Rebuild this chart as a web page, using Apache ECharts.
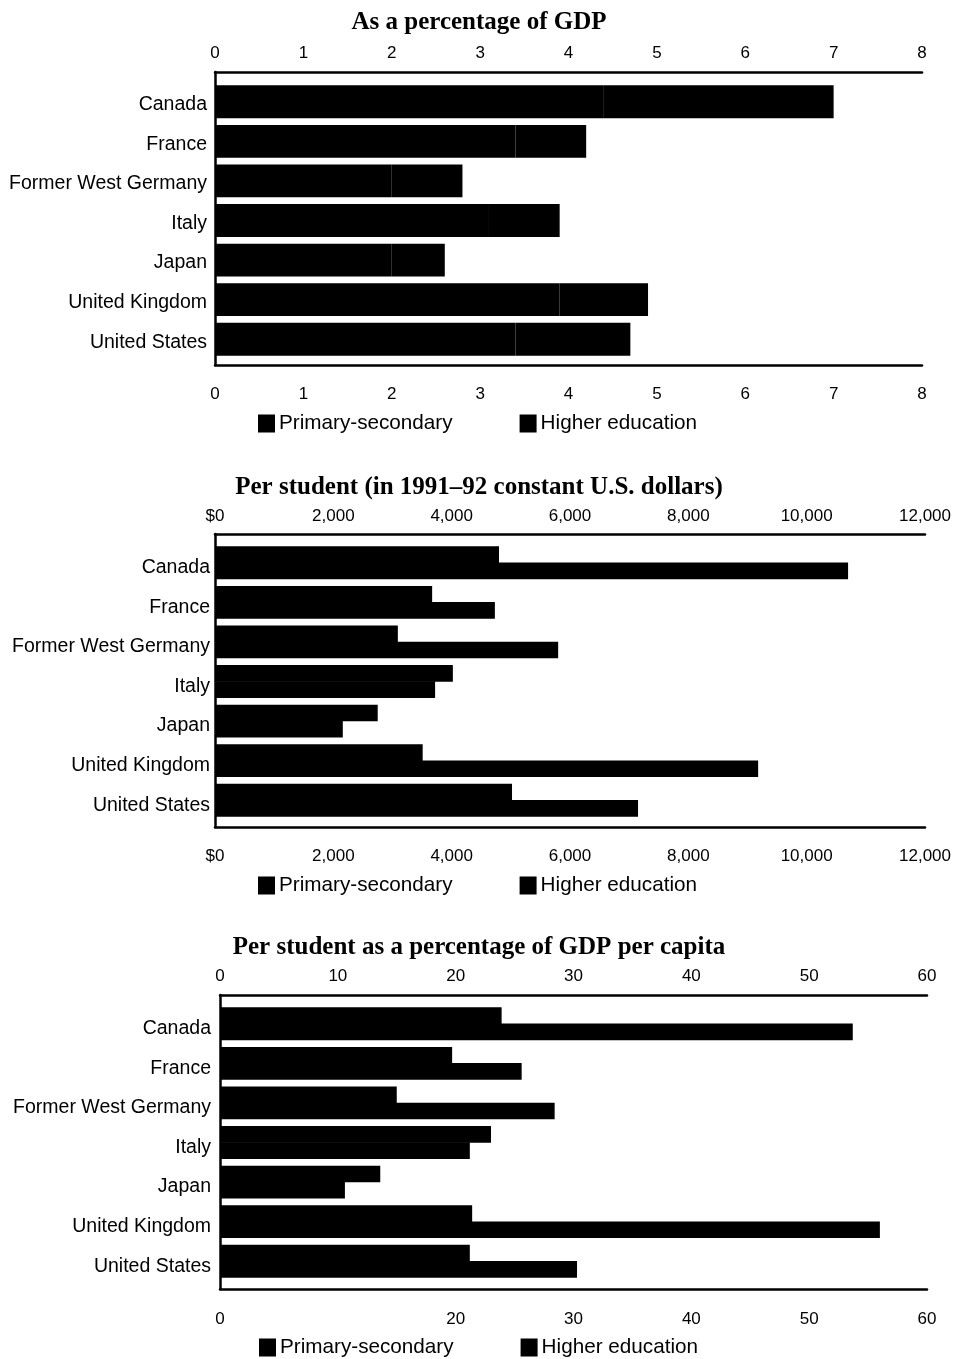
<!DOCTYPE html>
<html>
<head>
<meta charset="utf-8">
<script src="https://cdn.jsdelivr.net/npm/echarts@6/dist/echarts.min.js"></script>
<style>
  html, body { margin: 0; padding: 0; background: #fff; }
  #chart { width: 958px; height: 1359px; }
</style>
</head>
<body>
<div id="chart"></div>
<script>
// ---- Data ----
const categories = ['Canada', 'France', 'Former West Germany', 'Italy', 'Japan', 'United Kingdom', 'United States'];
const seriesNames = ['Primary-secondary', 'Higher education'];

// As a percentage of GDP (stacked)
const gdpPrimary = [4.4, 3.4, 2.0, 3.1, 2.0, 3.9, 3.4];
const gdpHigher  = [2.6, 0.8, 0.8, 0.8, 0.6, 1.0, 1.3];

// Per student (1991-92 constant U.S. dollars)
const perStudentPrimary = [4800, 3670, 3090, 4020, 2750, 3510, 5020];
const perStudentHigher  = [10700, 4730, 5800, 3720, 2160, 9180, 7150];

// Per student as a percentage of GDP per capita
const pctGdpPrimary = [23.9, 19.7, 15.0, 23.0, 13.6, 21.4, 21.2];
const pctGdpHigher  = [53.7, 25.6, 28.4, 21.2, 10.6, 56.0, 30.3];

// Tick labels
const gdpTicks = ['0', '1', '2', '3', '4', '5', '6', '7', '8'];
const dollarTicks = ['$0', '2,000', '4,000', '6,000', '8,000', '10,000', '12,000'];
const pctTicksTop = ['0', '10', '20', '30', '40', '50', '60'];
const pctTicksBottom = ['0', '', '20', '30', '40', '50', '60'];

const titles = [
  'As a percentage of GDP',
  'Per student (in 1991\u201392 constant U.S. dollars)',
  'Per student as a percentage of GDP per capita'
];

// ---- Layout ----
const SANS = 'Liberation Sans, Arial, Helvetica, sans-serif';
const SERIF = 'Liberation Serif, Times New Roman, serif';

const panels = [
  {
    title: titles[0], titleTop: 5,
    frame: { left: 215, top: 72, width: 707, height: 293 },
    bars:  { left: 215, top: 82, width: 707, height: 277 },
    min: 0, max: 8, interval: 1,
    topTicks: gdpTicks, bottomTicks: gdpTicks,
    topMargin: 10, bottomMargin: 21, catMargin: 8, catShift: 3,
    legend: { left: 258, top: 413 },
    primary: gdpPrimary, higher: gdpHigher, stacked: true
  },
  {
    title: titles[1], titleTop: 470,
    frame: { left: 215, top: 534, width: 710, height: 293 },
    bars:  { left: 215, top: 543, width: 710, height: 277 },
    min: 0, max: 12000, interval: 2000,
    topTicks: dollarTicks, bottomTicks: dollarTicks,
    topMargin: 9, bottomMargin: 21, catMargin: 5, catShift: 5,
    legend: { left: 258, top: 875 },
    primary: perStudentPrimary, higher: perStudentHigher, stacked: false
  },
  {
    title: titles[2], titleTop: 930,
    frame: { left: 220, top: 995, width: 707, height: 294 },
    bars:  { left: 220, top: 1004, width: 707, height: 277 },
    min: 0, max: 60, interval: 10,
    topTicks: pctTicksTop, bottomTicks: pctTicksBottom,
    topMargin: 10, bottomMargin: 22, catMargin: 9, catShift: 5,
    legend: { left: 259, top: 1337 },
    primary: pctGdpPrimary, higher: pctGdpHigher, stacked: false
  }
];

const lineStyle = { color: '#000', width: 2.5 };
const option = {
  animation: false,
  backgroundColor: '#fff',
  title: [], legend: [], grid: [], xAxis: [], yAxis: [], series: []
};

panels.forEach((p, i) => {
  option.title.push({
    text: p.title, left: 'center', top: p.titleTop,
    textStyle: { fontFamily: SERIF, fontWeight: 'bold', fontSize: 25, color: '#000' }
  });
  option.legend.push({
    left: p.legend.left, top: p.legend.top, orient: 'horizontal', padding: 0,
    itemGap: 67, itemWidth: 15, itemHeight: 16, icon: 'rect',
    selectedMode: false,
    textStyle: { fontFamily: SANS, fontSize: 20.7, color: '#000' },
    data: seriesNames
  });
  option.grid.push(Object.assign({ containLabel: false }, p.frame));
  option.grid.push(Object.assign({ containLabel: false }, p.bars));

  const fmt = (ticks) => (v) => {
    const k = Math.round((v - p.min) / p.interval);
    return ticks[k] !== undefined ? ticks[k] : '';
  };
  const baseX = {
    type: 'value', min: p.min, max: p.max, interval: p.interval,
    splitLine: { show: false }, axisTick: { show: false }
  };
  // frame top axis
  option.xAxis.push(Object.assign({}, baseX, {
    gridIndex: 2 * i, position: 'top',
    axisLine: { show: true, onZero: false, lineStyle },
    axisLabel: { formatter: fmt(p.topTicks), margin: p.topMargin, fontFamily: SANS, fontSize: 17, color: '#000' }
  }));
  // frame bottom axis
  option.xAxis.push(Object.assign({}, baseX, {
    gridIndex: 2 * i, position: 'bottom',
    axisLine: { show: true, onZero: false, lineStyle },
    axisLabel: { formatter: fmt(p.bottomTicks), margin: p.bottomMargin, fontFamily: SANS, fontSize: 17, color: '#000' }
  }));
  // bars value axis (hidden)
  option.xAxis.push(Object.assign({}, baseX, { gridIndex: 2 * i + 1, show: false }));

  // frame left line
  option.yAxis.push({
    gridIndex: 2 * i, type: 'value', min: 0, max: 1,
    axisLine: { show: true, onZero: false, lineStyle },
    axisLabel: { show: false }, axisTick: { show: false }, splitLine: { show: false }
  });
  // category axis
  option.yAxis.push({
    gridIndex: 2 * i + 1, type: 'category', data: categories, inverse: true,
    axisLine: { show: false }, axisTick: { show: false }, splitLine: { show: false },
    axisLabel: {
      margin: p.catMargin, fontFamily: SANS, fontSize: 19.5, color: '#000',
      verticalAlign: 'top', lineHeight: 2 * p.catShift
    }
  });

  const common = {
    type: 'bar', xAxisIndex: 3 * i + 2, yAxisIndex: 2 * i + 1,
    barCategoryGap: '17%', barGap: '-3%',
    itemStyle: { color: '#000', borderColor: '#000', borderWidth: 1.5 }
  };
  option.series.push(Object.assign({}, common, {
    name: seriesNames[0], data: p.primary, stack: p.stacked ? 'total' + i : undefined
  }));
  option.series.push(Object.assign({}, common, {
    name: seriesNames[1], data: p.higher, stack: p.stacked ? 'total' + i : undefined
  }));
});

const chart = echarts.init(document.getElementById('chart'), null, { renderer: 'canvas' });
chart.setOption(option);
</script>
</body>
</html>
